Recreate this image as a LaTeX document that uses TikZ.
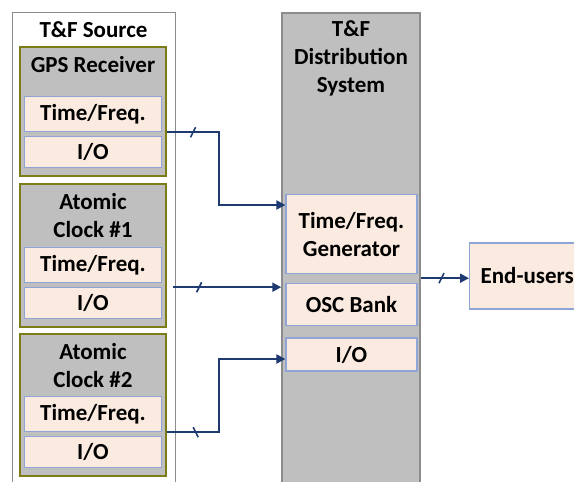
\documentclass[tikz,border=0pt]{standalone}
\usepackage{fontspec}
\setmainfont{Carlito}
\usetikzlibrary{positioning,calc,arrows.meta}
\definecolor{srcgray}{HTML}{8C8C8C}
\definecolor{modolive}{HTML}{7D7D18}
\definecolor{boxgray}{HTML}{BFBFBF}
\definecolor{peach}{HTML}{FBEADF}
\definecolor{partblue}{HTML}{8EA5D6}
\definecolor{linkblue}{HTML}{1F3A70}
\newcommand{\blockfont}{\fontsize{23}{28}\selectfont\bfseries}
\tikzset{
  holder/.style={draw=srcgray, line width=1pt, anchor=north, inner sep=0pt},
  module/.style={draw=modolive, fill=boxgray, line width=2.4pt, minimum width=146pt, anchor=north, inner sep=0pt},
  part/.style={draw=partblue, fill=peach, line width=1.2pt, inner sep=0pt, font=\blockfont, align=center},
  caption/.style={font=\blockfont, align=center, inner sep=0pt},
  link/.style={draw=linkblue, line width=2pt, -{Triangle[length=9pt,width=9pt]}},
  slash/.style={draw=linkblue, line width=1.6pt}
}

\begin{document}
\begin{tikzpicture}[x=1pt,y=-1pt]
  \useasboundingbox (0,0) rectangle (574,482);
  \clip (0,0) rectangle (574,482);

  \node[holder, fill=white, minimum width=163pt, minimum height=490pt] (src) at (93.5,12) {};
  \node[caption] (srcT) at ($(src.north)+(0,18)$) {T\&F Source};
  \node[module, minimum height=129pt] (gps) at (93,46) {};
  \node[module, minimum height=143pt] (clk1) at (93,183) {};
  \node[module, minimum height=142pt] (clk2) at (93,333) {};
  \node[caption] (gpsT) at ($(gps.north)+(0,19)$) {GPS Receiver};
  \node[caption] (clk1T) at ($(clk1.north)+(0,33)$) {Atomic\\Clock \#1};
  \node[caption] (clk2T) at ($(clk2.north)+(0,33)$) {Atomic\\Clock \#2};
  \node[part, minimum width=137pt, minimum height=31pt, above=9pt of gps.south] (gpsIO) {I/O};
  \node[part, minimum width=137pt, minimum height=35pt, above=4pt of gpsIO] (gpsTF) {Time/Freq.};
  \node[part, minimum width=137pt, minimum height=31pt, above=9pt of clk1.south] (clk1IO) {I/O};
  \node[part, minimum width=137pt, minimum height=35pt, above=4pt of clk1IO] (clk1TF) {Time/Freq.};
  \node[part, minimum width=137pt, minimum height=31pt, above=9pt of clk2.south] (clk2IO) {I/O};
  \node[part, minimum width=137pt, minimum height=35pt, above=4pt of clk2IO] (clk2TF) {Time/Freq.};

  \node[holder, fill=boxgray, line width=1.5pt, minimum width=138pt, minimum height=490pt] (dist) at (351,12) {};
  \node[caption] (distT) at ($(dist.north)+(0,46)$) {T\&F\\Distribution\\System};
  \node[part, anchor=north, minimum width=131pt, minimum height=79pt] (distTF) at (351.5,194) {Time/Freq.\\Generator};
  \node[part, minimum width=131pt, minimum height=42pt, below=9pt of distTF] (osc) {OSC Bank};
  \node[part, minimum width=131pt, minimum height=33pt, below=11pt of osc] (distIO) {I/O};

  \node[part, anchor=west, minimum height=66pt, inner xsep=11pt] (users) at (469,276) {End-users};

  \coordinate (bus) at (219,0);
  \coordinate (gpsOut) at (gpsTF.south east -| gps.east);
  \coordinate (gpsIn) at ($(distTF.north west)+(0,11)$ -| dist.west);
  \coordinate (clk1Out) at ($(clk1IO.north -| clk1.east)+(6,0)$);
  \coordinate (clk2Out) at (clk2TF.south east -| clk2.east);
  \coordinate (clk2In) at ($(distIO.west)+(0,4.5)$ -| dist.west);
  \coordinate (distOut) at ($(distTF.south -| dist.east)+(0,4)$);

  \draw[link] (gpsOut) -- coordinate[pos=.5] (tk1) (gpsOut -| bus) |- (gpsIn);
  \draw[slash] (tk1) ++(-2.5,5) -- ++(5,-10);
  \draw[link] (clk1Out) -- coordinate[pos=.24] (tk2) (clk1Out -| dist.west);
  \draw[slash] (tk2) ++(-2.5,5) -- ++(5,-10);
  \draw[link] (clk2Out) -- coordinate[pos=.55] (tk3) (clk2Out -| bus) |- (clk2In);
  \draw[slash] (tk3) ++(-2.5,-5) -- ++(5,10);
  \draw[link] (distOut) -- coordinate[pos=.43] (tk4) (distOut -| users.west);
  \draw[slash] (tk4) ++(-2.5,5) -- ++(5,-10);
\end{tikzpicture}
\end{document}
